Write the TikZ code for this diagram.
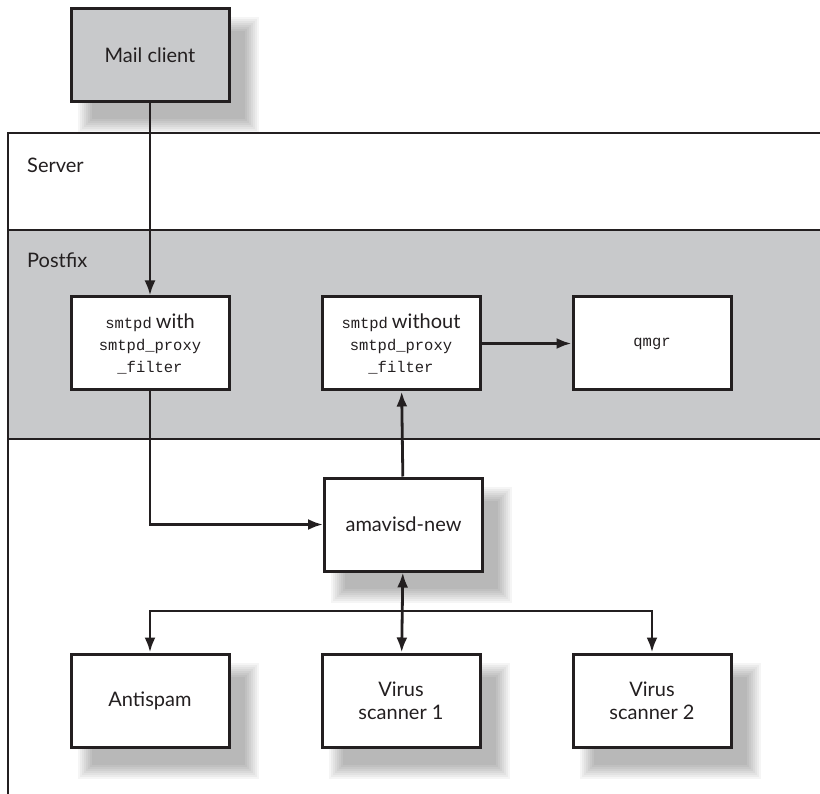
\documentclass[tikz,border=0pt]{standalone}
\usepackage{fontspec}
\setmainfont{Lato}
\setmonofont{Liberation Mono}
\usetikzlibrary{positioning}
\usetikzlibrary{arrows.meta}
\definecolor{inkdark}{HTML}{231F20}
\definecolor{panelgrey}{HTML}{C8C9CB}
\pgfdeclarelayer{background}
\pgfsetlayers{background,main}
\tikzset{procbox/.style={rectangle,draw=inkdark,fill=white,line width=3pt,
inner sep=2pt,minimum height=93pt, minimum width=158pt,align=center,
font=\fontsize{20}{23}\selectfont,text=inkdark}}
\tikzset{monobox/.style={procbox,font=\fontsize{15.5}{22}\selectfont}}
\tikzset{arealabel/.style={anchor=west,inner sep=0pt,text=inkdark,
font=\fontsize{20}{23}\selectfont}}
\tikzset{flow/.style={draw=inkdark,line width=2.8pt,-{Latex[length=15pt,width=11pt]}}}
\newcommand{\softshadow}[1]{%
  \begin{pgfonlayer}{background}
  \foreach \r in {-4,-2,...,10}
    \fill[black,opacity=0.04] ([shift={(18-\r,20-\r)}]#1.north west) rectangle ([shift={(18+\r,20+\r)}]#1.south east);
  \end{pgfonlayer}}

\begin{document}
\begin{tikzpicture}[x=1pt,y=-1pt]
    \useasboundingbox (0,0) rectangle (820,794);

    % server frame and postfix band
    \fill[panelgrey] (8,230) rectangle (820,439);
    \draw[inkdark,line width=2.5pt] (820,133) -- (8,133) -- (8,794);
    \draw[inkdark,line width=2.5pt] (8,230) -- (820,230);
    \draw[inkdark,line width=2.5pt] (8,439) -- (820,439);
    \node[arealabel] (serverlbl) at (27,165) {Server};
    \node[arealabel] (postfixlbl) at (27,260) {Postfix};

    \node[procbox,fill=panelgrey] (mail) at (150,55) {Mail client};

    \node[monobox] (with) at (150,343.5) {\texttt{smtpd} \fontsize{20}{22}\selectfont with\\\texttt{smtpd\_proxy}\\\texttt{\_filter}};
    \node[monobox] (without) [right=90pt of with] {\texttt{smtpd} \fontsize{20}{22}\selectfont without\\\texttt{smtpd\_proxy}\\\texttt{\_filter}};
    \node[monobox] (qmgr) [right=90pt of without] {\texttt{qmgr}};

    \node[procbox] (amavis) at (403.5,524.5) {amavisd-new};

    \node[procbox] (antispam) at (150,700.5) {Antispam};
    \node[procbox] (scan1) [right=90pt of antispam] {Virus\\scanner 1};
    \node[procbox] (scan2) [right=90pt of scan1] {Virus\\scanner 2};

    \softshadow{mail}
    \softshadow{amavis}
    \softshadow{antispam}
    \softshadow{scan1}
    \softshadow{scan2}

    \coordinate (bus) at (403.5,611);

    \draw[flow] (mail) -- (with);
    \draw[flow] (with.south) |- (amavis.west);
    \draw[flow] (amavis) -- (without);
    \draw[flow] (without) -- (qmgr);
    \draw[flow,{Latex[length=15pt,width=11pt]}-{Latex[length=15pt,width=11pt]}] (amavis) -- (scan1);
    \draw[flow] (bus) -| (antispam);
    \draw[flow] (bus) -| (scan2);

\end{tikzpicture}
\end{document}
